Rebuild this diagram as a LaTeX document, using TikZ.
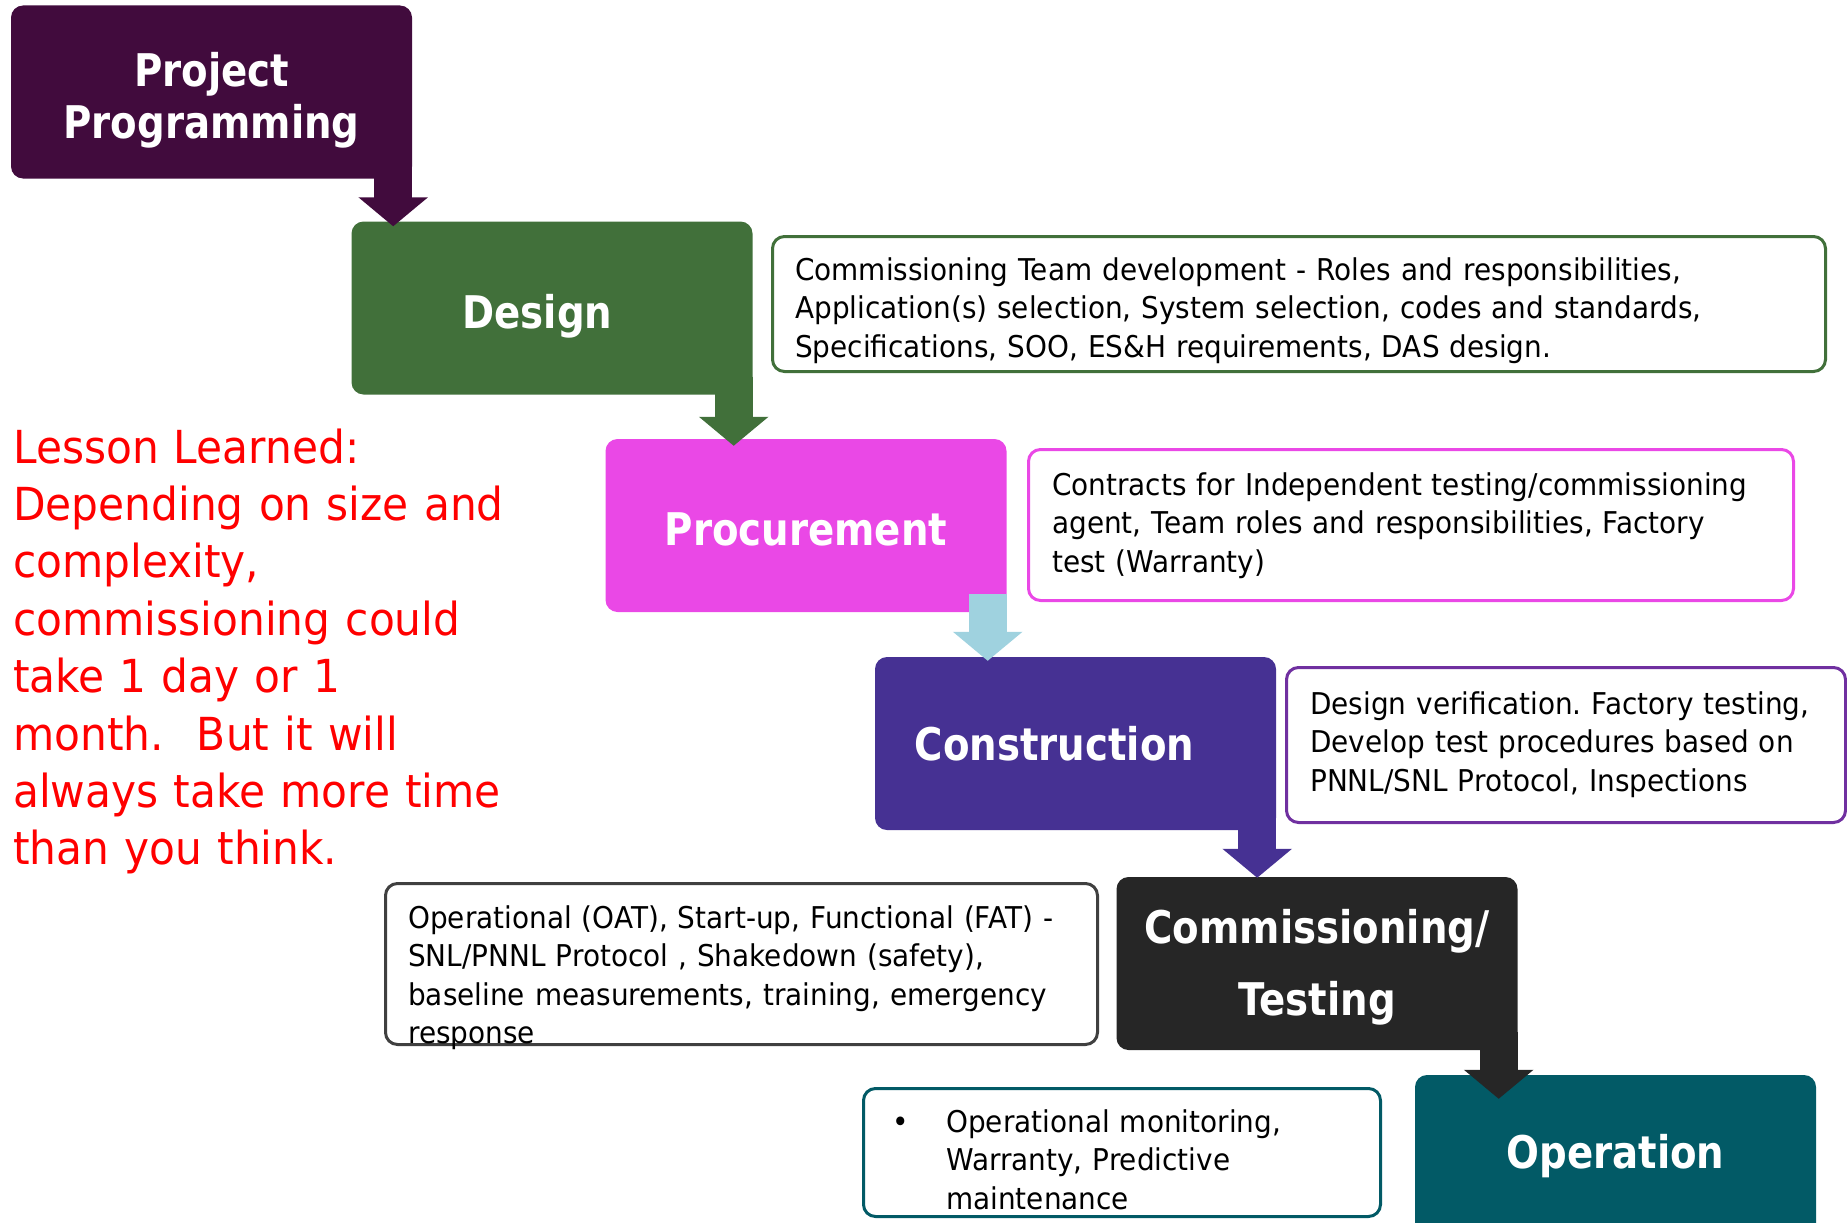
\documentclass[tikz,border=0pt]{standalone}
\usepackage{fontspec}
\setmainfont{DejaVu Sans}[FakeStretch=0.93,BoldFeatures={FakeStretch=0.86}]
\usetikzlibrary{arrows.meta,calc}
\definecolor{progplum}{HTML}{410B3D}
\definecolor{designgreen}{HTML}{41703A}
\definecolor{procpink}{HTML}{EA48E6}
\definecolor{procblue}{HTML}{9FD2DF}
\definecolor{constrblue}{HTML}{463193}
\definecolor{constrline}{HTML}{7030A0}
\definecolor{commgray}{HTML}{262626}
\definecolor{oatgray}{HTML}{404040}
\definecolor{operteal}{HTML}{025A66}
\frenchspacing

\begin{document}
\begin{tikzpicture}[x=1pt,y=-1pt]
\tikzset{stage/.style = {shape=rectangle,rounded corners=12pt,minimum width=401pt,minimum height=173pt,inner sep=0pt,text width=401pt,align=center,text=white,font=\fontsize{45}{52}\selectfont\bfseries}}
\tikzset{note/.style = {shape=rectangle,draw,line width=3pt,rounded corners=12pt,inner sep=0pt}}
\tikzset{notetext/.style = {anchor=base west,inner sep=0pt,text width=1000pt,align=left,font=\fontsize{30}{38.5}\selectfont}}
\tikzset{flow/.style = {line width=38pt,-{Triangle[width=68pt,length=29pt]}}}
\useasboundingbox (0,0) rectangle (1847,1223);
\clip (0,0) rectangle (1847,1223);
% stages
\node[stage,fill=progplum,text height=0pt,text depth=12pt] (prog) at (211.5,92) {Project\\Programming};
\node[stage,fill=designgreen,text height=40pt,text depth=0pt] (design) at (552,308) {\hspace*{-29pt}Design};
\node[stage,fill=procpink,text height=40pt,text depth=0pt] (proc) at (806,525.5) {Procurement};
\node[stage,fill=constrblue,text height=33pt,text depth=0pt] (constr) at (1075.5,743.5) {\hspace*{-42pt}Construction};
\node[stage,fill=commgray,font=\fontsize{45}{72}\selectfont\bfseries,text height=0pt,text depth=41pt] (comm) at (1317,963.5) {Commissioning/\\Testing};
\node[stage,fill=operteal,minimum height=190pt,text height=0pt,text depth=4pt] (oper) at (1615.5,1170) {Operation};
% notes
\node[note,draw=designgreen,minimum width=1053pt,minimum height=135pt] (designnote) at (1299,304) {};
\node[note,draw=procpink,minimum width=765pt,minimum height=151pt] (procnote) at (1411,525) {};
\node[note,draw=constrline,minimum width=559pt,minimum height=155pt] (constrnote) at (1566,745) {};
\node[note,draw=oatgray,minimum width=712pt,minimum height=161pt] (commnote) at (741.5,964) {};
\node[note,draw=operteal,minimum width=517pt,minimum height=128pt] (opernote) at (1122,1152.5) {};
\node[notetext] (designtext) at (795,280) {Commissioning Team development - Roles and responsibilities,\\Application(s) selection, System selection, codes and standards,\\Specifications, SOO, ES\&H requirements, DAS design.};
\node[notetext] (proctext) at (1052,495) {Contracts for Independent testing/commissioning\\agent, Team roles and responsibilities, Factory\\test (Warranty)};
\node[notetext] (constrtext) at (1310,714) {Design verification. Factory testing,\\Develop test procedures based on\\PNNL/SNL Protocol, Inspections};
\node[notetext] (commtext) at (408,928) {Operational (OAT), Start-up, Functional (FAT) -\\SNL/PNNL Protocol , Shakedown (safety),\\baseline measurements, training, emergency\\response};
\node[notetext] (opertext) at (892,1132) {\makebox[54pt][l]{•}Operational monitoring,\\\hspace*{54pt}Warranty, Predictive\\\hspace*{54pt}maintenance};
% lesson
\node[anchor=base west,inner sep=0pt,text width=700pt,align=left,text=red,font=\fontsize{45.5}{57.4}\selectfont] (lesson) at (13,463) {Lesson Learned:\\Depending on size and\\complexity,\\commissioning could\\take 1 day or 1\\month.\hspace{33pt}But it will\\always take more time\\than you think.};
%edges
\draw[flow,progplum] ($(prog.south east)+(-19,-18)$) -- ($(prog.south east |- design.north)+(-19,5)$);
\draw[flow,designgreen] ($(design.south east)+(-19,-18)$) -- ($(design.south east |- proc.north)+(-19,7)$);
\draw[flow,procblue] ($(proc.south east)+(-19,-18)$) -- ($(proc.south east |- constr.north)+(-19,4)$);
\draw[flow,constrblue] ($(constr.south east)+(-19,-18)$) -- ($(constr.south east |- comm.north)+(-19,1)$);
\draw[flow,commgray] ($(comm.south east)+(-19,-18)$) -- ($(comm.south east |- oper.north)+(-19,24)$);
\end{tikzpicture}
\end{document}
